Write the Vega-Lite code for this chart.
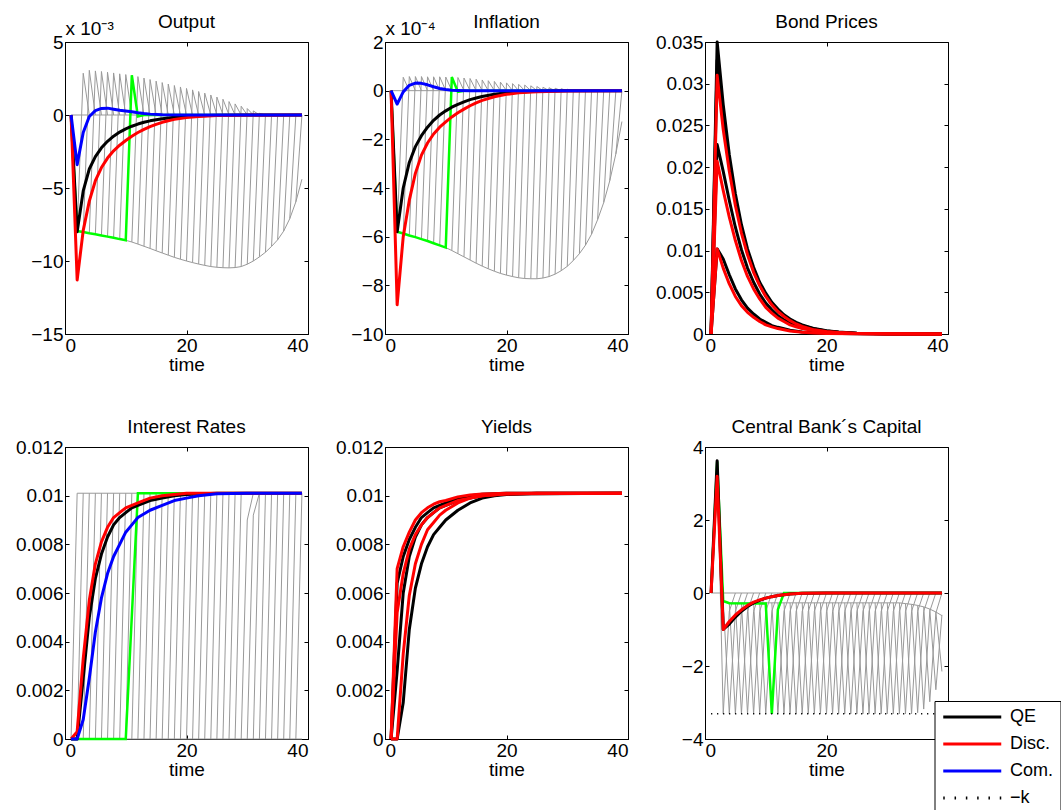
{
"$schema": "https://vega.github.io/schema/vega-lite/v6.json",
"background": "white",
"padding": {"left": 14, "top": 12, "right": 0, "bottom": 0},
"bounds": "flush",
"columns": 3,
"spacing": {"row": 113, "column": 77},
"resolve": {"scale": {"color": "shared"}},
"config": {
 "font": "Liberation Sans",
 "view": {"stroke": "#000000", "strokeWidth": 1},
 "axis": {"grid": false, "domainColor": "#000000", "tickColor": "#000000", "tickSize": -4, "labelFont": "Liberation Sans", "labelFontSize": 19, "labelColor": "#000000", "titleFont": "Liberation Sans", "titleFontSize": 19, "titleFontWeight": "normal", "titleColor": "#000000"},
 "axisX": {"labelPadding": 6, "titlePadding": 0},
 "axisY": {"labelPadding": 6},
 "title": {"font": "Liberation Sans", "fontSize": 19, "fontWeight": "normal", "color": "#000000", "frame": "group", "baseline": "alphabetic"}
},
"datasets": {
"og": [
{"i":"e","t":1,"v":0},{"i":"e","t":2,"v":-7.95},{"i":"e","t":3,"v":-8.02},{"i":"e","t":4,"v":-8.1},{"i":"e","t":5,"v":-8.17},{"i":"e","t":6,"v":-8.25},{"i":"e","t":7,"v":-8.33},{"i":"e","t":8,"v":-8.41},{"i":"e","t":9,"v":-8.5},{"i":"e","t":10,"v":-8.58},{"i":"e","t":11,"v":-8.7},{"i":"e","t":12,"v":-8.84},{"i":"e","t":13,"v":-8.99},{"i":"e","t":14,"v":-9.14},{"i":"e","t":15,"v":-9.3},{"i":"e","t":16,"v":-9.45},{"i":"e","t":17,"v":-9.6},{"i":"e","t":18,"v":-9.75},{"i":"e","t":19,"v":-9.88},{"i":"e","t":20,"v":-10},{"i":"e","t":21,"v":-10.11},{"i":"e","t":22,"v":-10.21},{"i":"e","t":23,"v":-10.3},{"i":"e","t":24,"v":-10.38},{"i":"e","t":25,"v":-10.43},{"i":"e","t":26,"v":-10.46},{"i":"e","t":27,"v":-10.47},{"i":"e","t":28,"v":-10.45},{"i":"e","t":29,"v":-10.38},{"i":"e","t":30,"v":-10.22},{"i":"e","t":31,"v":-10},{"i":"e","t":32,"v":-9.72},{"i":"e","t":33,"v":-9.4},{"i":"e","t":34,"v":-9},{"i":"e","t":35,"v":-8.55},{"i":"e","t":36,"v":-7.95},{"i":"e","t":37,"v":-7.1},{"i":"e","t":38,"v":-5.95},{"i":"e","t":39,"v":-4.4},
{"i":"z","t":1,"v":0},{"i":"z","t":39,"v":0},
{"i":2,"t":2,"v":-7.95},{"i":2,"t":3,"v":2.86},{"i":2,"t":4,"v":0},
{"i":3,"t":3,"v":-8.02},{"i":3,"t":4,"v":3.06},{"i":3,"t":5,"v":0},
{"i":4,"t":4,"v":-8.1},{"i":4,"t":5,"v":3.02},{"i":4,"t":6,"v":0},
{"i":5,"t":5,"v":-8.17},{"i":5,"t":6,"v":2.98},{"i":5,"t":7,"v":0},
{"i":6,"t":6,"v":-8.25},{"i":6,"t":7,"v":2.93},{"i":6,"t":8,"v":0},
{"i":7,"t":7,"v":-8.33},{"i":7,"t":8,"v":2.88},{"i":7,"t":9,"v":0},
{"i":8,"t":8,"v":-8.41},{"i":8,"t":9,"v":2.82},{"i":8,"t":10,"v":0},
{"i":9,"t":9,"v":-8.5},{"i":9,"t":10,"v":2.77},{"i":9,"t":11,"v":0},
{"i":10,"t":10,"v":-8.58},{"i":10,"t":11,"v":2.72},{"i":10,"t":12,"v":0},
{"i":11,"t":11,"v":-8.7},{"i":11,"t":12,"v":2.63},{"i":11,"t":13,"v":0},
{"i":12,"t":12,"v":-8.84},{"i":12,"t":13,"v":2.53},{"i":12,"t":14,"v":0},
{"i":13,"t":13,"v":-8.99},{"i":13,"t":14,"v":2.43},{"i":13,"t":15,"v":0},
{"i":14,"t":14,"v":-9.14},{"i":14,"t":15,"v":2.32},{"i":14,"t":16,"v":0},
{"i":15,"t":15,"v":-9.3},{"i":15,"t":16,"v":2.22},{"i":15,"t":17,"v":0},
{"i":16,"t":16,"v":-9.45},{"i":16,"t":17,"v":2.12},{"i":16,"t":18,"v":0},
{"i":17,"t":17,"v":-9.6},{"i":17,"t":18,"v":2.02},{"i":17,"t":19,"v":0},
{"i":18,"t":18,"v":-9.75},{"i":18,"t":19,"v":1.92},{"i":18,"t":20,"v":0},
{"i":19,"t":19,"v":-9.88},{"i":19,"t":20,"v":1.82},{"i":19,"t":21,"v":0},
{"i":20,"t":20,"v":-10},{"i":20,"t":21,"v":1.72},{"i":20,"t":22,"v":0},
{"i":21,"t":21,"v":-10.11},{"i":21,"t":22,"v":1.61},{"i":21,"t":23,"v":0},
{"i":22,"t":22,"v":-10.21},{"i":22,"t":23,"v":1.5},{"i":22,"t":24,"v":0},
{"i":23,"t":23,"v":-10.3},{"i":23,"t":24,"v":1.37},{"i":23,"t":25,"v":0},
{"i":24,"t":24,"v":-10.38},{"i":24,"t":25,"v":1.23},{"i":24,"t":26,"v":0},
{"i":25,"t":25,"v":-10.43},{"i":25,"t":26,"v":1.08},{"i":25,"t":27,"v":0},
{"i":26,"t":26,"v":-10.46},{"i":26,"t":27,"v":0.92},{"i":26,"t":28,"v":0},
{"i":27,"t":27,"v":-10.47},{"i":27,"t":28,"v":0.76},{"i":27,"t":29,"v":0},
{"i":28,"t":28,"v":-10.45},{"i":28,"t":29,"v":0.6},{"i":28,"t":30,"v":0},
{"i":29,"t":29,"v":-10.38},{"i":29,"t":30,"v":0.44},{"i":29,"t":31,"v":0},
{"i":30,"t":30,"v":-10.22},{"i":30,"t":31,"v":0.28},{"i":30,"t":32,"v":0},
{"i":31,"t":31,"v":-10},{"i":31,"t":32,"v":0.12},{"i":31,"t":33,"v":0},
{"i":32,"t":32,"v":-9.72},{"i":32,"t":33,"v":0.03},{"i":32,"t":34,"v":0},
{"i":33,"t":33,"v":-9.4},{"i":33,"t":34,"v":0},
{"i":34,"t":34,"v":-9},{"i":34,"t":35,"v":0},
{"i":35,"t":35,"v":-8.55},{"i":35,"t":36,"v":0},
{"i":36,"t":36,"v":-7.95},{"i":36,"t":37,"v":0},
{"i":37,"t":37,"v":-7.1},{"i":37,"t":38,"v":0},
{"i":38,"t":38,"v":-5.95},{"i":38,"t":39,"v":0}
],
"ogr": [
{"t":1,"v":0},{"t":2,"v":-7.95},{"t":3,"v":-8.02},{"t":4,"v":-8.1},{"t":5,"v":-8.17},{"t":6,"v":-8.25},{"t":7,"v":-8.33},{"t":8,"v":-8.41},{"t":9,"v":-8.5},{"t":10,"v":-8.58},{"t":11,"v":2.72},{"t":12,"v":-0.1},{"t":13,"v":0},{"t":39,"v":0}
],
"oc": [
{"s":"QE","t":1,"v":0},{"s":"QE","t":2,"v":-8},{"s":"QE","t":3,"v":-5.2},{"s":"QE","t":4,"v":-3.7},{"s":"QE","t":5,"v":-2.85},{"s":"QE","t":6,"v":-2.25},{"s":"QE","t":7,"v":-1.8},{"s":"QE","t":8,"v":-1.45},{"s":"QE","t":9,"v":-1.17},{"s":"QE","t":10,"v":-0.95},{"s":"QE","t":11,"v":-0.77},{"s":"QE","t":12,"v":-0.62},{"s":"QE","t":13,"v":-0.5},{"s":"QE","t":14,"v":-0.4},{"s":"QE","t":15,"v":-0.32},{"s":"QE","t":16,"v":-0.25},{"s":"QE","t":18,"v":-0.15},{"s":"QE","t":20,"v":-0.09},{"s":"QE","t":22,"v":-0.05},{"s":"QE","t":25,"v":-0.02},{"s":"QE","t":30,"v":0},{"s":"QE","t":39,"v":0},
{"s":"Disc.","t":1,"v":0},{"s":"Disc.","t":2,"v":-11.3},{"s":"Disc.","t":3,"v":-7.9},{"s":"Disc.","t":4,"v":-5.9},{"s":"Disc.","t":5,"v":-4.5},{"s":"Disc.","t":6,"v":-3.6},{"s":"Disc.","t":7,"v":-2.95},{"s":"Disc.","t":8,"v":-2.45},{"s":"Disc.","t":9,"v":-2.07},{"s":"Disc.","t":10,"v":-1.75},{"s":"Disc.","t":11,"v":-1.45},{"s":"Disc.","t":12,"v":-1.2},{"s":"Disc.","t":13,"v":-0.98},{"s":"Disc.","t":14,"v":-0.8},{"s":"Disc.","t":15,"v":-0.64},{"s":"Disc.","t":16,"v":-0.5},{"s":"Disc.","t":17,"v":-0.39},{"s":"Disc.","t":18,"v":-0.3},{"s":"Disc.","t":20,"v":-0.18},{"s":"Disc.","t":22,"v":-0.1},{"s":"Disc.","t":25,"v":-0.04},{"s":"Disc.","t":30,"v":-0.01},{"s":"Disc.","t":39,"v":0},
{"s":"Com.","t":1,"v":0},{"s":"Com.","t":2,"v":-3.4},{"s":"Com.","t":3,"v":-1.2},{"s":"Com.","t":4,"v":-0.1},{"s":"Com.","t":5,"v":0.3},{"s":"Com.","t":6,"v":0.45},{"s":"Com.","t":7,"v":0.47},{"s":"Com.","t":8,"v":0.4},{"s":"Com.","t":9,"v":0.32},{"s":"Com.","t":10,"v":0.28},{"s":"Com.","t":11,"v":0.22},{"s":"Com.","t":12,"v":0.15},{"s":"Com.","t":13,"v":0.1},{"s":"Com.","t":14,"v":0.06},{"s":"Com.","t":16,"v":0.02},{"s":"Com.","t":20,"v":0},{"s":"Com.","t":39,"v":0}
],
"ig": [
{"i":"e","t":1,"v":0},{"i":"e","t":2,"v":-5.8},{"i":"e","t":3,"v":-5.87},{"i":"e","t":4,"v":-5.95},{"i":"e","t":5,"v":-6.02},{"i":"e","t":6,"v":-6.1},{"i":"e","t":7,"v":-6.18},{"i":"e","t":8,"v":-6.27},{"i":"e","t":9,"v":-6.36},{"i":"e","t":10,"v":-6.45},{"i":"e","t":11,"v":-6.57},{"i":"e","t":12,"v":-6.7},{"i":"e","t":13,"v":-6.83},{"i":"e","t":14,"v":-6.96},{"i":"e","t":15,"v":-7.09},{"i":"e","t":16,"v":-7.21},{"i":"e","t":17,"v":-7.32},{"i":"e","t":18,"v":-7.42},{"i":"e","t":19,"v":-7.51},{"i":"e","t":20,"v":-7.58},{"i":"e","t":21,"v":-7.64},{"i":"e","t":22,"v":-7.69},{"i":"e","t":23,"v":-7.72},{"i":"e","t":24,"v":-7.73},{"i":"e","t":25,"v":-7.73},{"i":"e","t":26,"v":-7.7},{"i":"e","t":27,"v":-7.64},{"i":"e","t":28,"v":-7.54},{"i":"e","t":29,"v":-7.4},{"i":"e","t":30,"v":-7.22},{"i":"e","t":31,"v":-6.98},{"i":"e","t":32,"v":-6.7},{"i":"e","t":33,"v":-6.35},{"i":"e","t":34,"v":-5.9},{"i":"e","t":35,"v":-5.3},{"i":"e","t":36,"v":-4.6},{"i":"e","t":37,"v":-3.7},{"i":"e","t":38,"v":-2.6},{"i":"e","t":39,"v":-1.27},
{"i":"z","t":1,"v":0},{"i":"z","t":39,"v":0},
{"i":2,"t":2,"v":-5.8},{"i":2,"t":3,"v":0.55},{"i":2,"t":4,"v":0},
{"i":3,"t":3,"v":-5.87},{"i":3,"t":4,"v":0.58},{"i":3,"t":5,"v":0},
{"i":4,"t":4,"v":-5.95},{"i":4,"t":5,"v":0.58},{"i":4,"t":6,"v":0},
{"i":5,"t":5,"v":-6.02},{"i":5,"t":6,"v":0.58},{"i":5,"t":7,"v":0},
{"i":6,"t":6,"v":-6.1},{"i":6,"t":7,"v":0.57},{"i":6,"t":8,"v":0},
{"i":7,"t":7,"v":-6.18},{"i":7,"t":8,"v":0.57},{"i":7,"t":9,"v":0},
{"i":8,"t":8,"v":-6.27},{"i":8,"t":9,"v":0.57},{"i":8,"t":10,"v":0},
{"i":9,"t":9,"v":-6.36},{"i":9,"t":10,"v":0.56},{"i":9,"t":11,"v":0},
{"i":10,"t":10,"v":-6.45},{"i":10,"t":11,"v":0.56},{"i":10,"t":12,"v":0},
{"i":11,"t":11,"v":-6.57},{"i":11,"t":12,"v":0.54},{"i":11,"t":13,"v":0},
{"i":12,"t":12,"v":-6.7},{"i":12,"t":13,"v":0.52},{"i":12,"t":14,"v":0},
{"i":13,"t":13,"v":-6.83},{"i":13,"t":14,"v":0.5},{"i":13,"t":15,"v":0},
{"i":14,"t":14,"v":-6.96},{"i":14,"t":15,"v":0.47},{"i":14,"t":16,"v":0},
{"i":15,"t":15,"v":-7.09},{"i":15,"t":16,"v":0.44},{"i":15,"t":17,"v":0},
{"i":16,"t":16,"v":-7.21},{"i":16,"t":17,"v":0.41},{"i":16,"t":18,"v":0},
{"i":17,"t":17,"v":-7.32},{"i":17,"t":18,"v":0.38},{"i":17,"t":19,"v":0},
{"i":18,"t":18,"v":-7.42},{"i":18,"t":19,"v":0.35},{"i":18,"t":20,"v":0},
{"i":19,"t":19,"v":-7.51},{"i":19,"t":20,"v":0.32},{"i":19,"t":21,"v":0},
{"i":20,"t":20,"v":-7.58},{"i":20,"t":21,"v":0.29},{"i":20,"t":22,"v":0},
{"i":21,"t":21,"v":-7.64},{"i":21,"t":22,"v":0.26},{"i":21,"t":23,"v":0},
{"i":22,"t":22,"v":-7.69},{"i":22,"t":23,"v":0.23},{"i":22,"t":24,"v":0},
{"i":23,"t":23,"v":-7.72},{"i":23,"t":24,"v":0.2},{"i":23,"t":25,"v":0},
{"i":24,"t":24,"v":-7.73},{"i":24,"t":25,"v":0.17},{"i":24,"t":26,"v":0},
{"i":25,"t":25,"v":-7.73},{"i":25,"t":26,"v":0.14},{"i":25,"t":27,"v":0},
{"i":26,"t":26,"v":-7.7},{"i":26,"t":27,"v":0.12},{"i":26,"t":28,"v":0},
{"i":27,"t":27,"v":-7.64},{"i":27,"t":28,"v":0.1},{"i":27,"t":29,"v":0},
{"i":28,"t":28,"v":-7.54},{"i":28,"t":29,"v":0.08},{"i":28,"t":30,"v":0},
{"i":29,"t":29,"v":-7.4},{"i":29,"t":30,"v":0.06},{"i":29,"t":31,"v":0},
{"i":30,"t":30,"v":-7.22},{"i":30,"t":31,"v":0.04},{"i":30,"t":32,"v":0},
{"i":31,"t":31,"v":-6.98},{"i":31,"t":32,"v":0.02},{"i":31,"t":33,"v":0},
{"i":32,"t":32,"v":-6.7},{"i":32,"t":33,"v":0},
{"i":33,"t":33,"v":-6.35},{"i":33,"t":34,"v":0},
{"i":34,"t":34,"v":-5.9},{"i":34,"t":35,"v":0},
{"i":35,"t":35,"v":-5.3},{"i":35,"t":36,"v":0},
{"i":36,"t":36,"v":-4.6},{"i":36,"t":37,"v":0},
{"i":37,"t":37,"v":-3.7},{"i":37,"t":38,"v":0},
{"i":38,"t":38,"v":-2.6},{"i":38,"t":39,"v":0}
],
"igr": [
{"t":1,"v":0},{"t":2,"v":-5.8},{"t":3,"v":-5.87},{"t":4,"v":-5.95},{"t":5,"v":-6.02},{"t":6,"v":-6.1},{"t":7,"v":-6.18},{"t":8,"v":-6.27},{"t":9,"v":-6.36},{"t":10,"v":-6.45},{"t":11,"v":0.56},{"t":12,"v":-0.05},{"t":13,"v":0},{"t":39,"v":0}
],
"ic": [
{"s":"QE","t":1,"v":0},{"s":"QE","t":2,"v":-5.8},{"s":"QE","t":3,"v":-4},{"s":"QE","t":4,"v":-2.95},{"s":"QE","t":5,"v":-2.3},{"s":"QE","t":6,"v":-1.85},{"s":"QE","t":7,"v":-1.5},{"s":"QE","t":8,"v":-1.22},{"s":"QE","t":9,"v":-1},{"s":"QE","t":10,"v":-0.83},{"s":"QE","t":11,"v":-0.68},{"s":"QE","t":12,"v":-0.56},{"s":"QE","t":13,"v":-0.46},{"s":"QE","t":14,"v":-0.37},{"s":"QE","t":15,"v":-0.3},{"s":"QE","t":16,"v":-0.24},{"s":"QE","t":18,"v":-0.15},{"s":"QE","t":20,"v":-0.09},{"s":"QE","t":22,"v":-0.05},{"s":"QE","t":25,"v":-0.02},{"s":"QE","t":30,"v":0},{"s":"QE","t":39,"v":0},
{"s":"Disc.","t":1,"v":0},{"s":"Disc.","t":2,"v":-8.8},{"s":"Disc.","t":3,"v":-6},{"s":"Disc.","t":4,"v":-4.5},{"s":"Disc.","t":5,"v":-3.4},{"s":"Disc.","t":6,"v":-2.65},{"s":"Disc.","t":7,"v":-2.15},{"s":"Disc.","t":8,"v":-1.78},{"s":"Disc.","t":9,"v":-1.5},{"s":"Disc.","t":10,"v":-1.28},{"s":"Disc.","t":11,"v":-1.08},{"s":"Disc.","t":12,"v":-0.91},{"s":"Disc.","t":13,"v":-0.76},{"s":"Disc.","t":14,"v":-0.62},{"s":"Disc.","t":15,"v":-0.5},{"s":"Disc.","t":16,"v":-0.4},{"s":"Disc.","t":18,"v":-0.25},{"s":"Disc.","t":20,"v":-0.15},{"s":"Disc.","t":22,"v":-0.09},{"s":"Disc.","t":25,"v":-0.04},{"s":"Disc.","t":30,"v":-0.01},{"s":"Disc.","t":39,"v":0},
{"s":"Com.","t":1,"v":0},{"s":"Com.","t":2,"v":-0.55},{"s":"Com.","t":3,"v":-0.05},{"s":"Com.","t":4,"v":0.22},{"s":"Com.","t":5,"v":0.31},{"s":"Com.","t":6,"v":0.3},{"s":"Com.","t":7,"v":0.24},{"s":"Com.","t":8,"v":0.16},{"s":"Com.","t":9,"v":0.09},{"s":"Com.","t":10,"v":0.05},{"s":"Com.","t":11,"v":0.02},{"s":"Com.","t":12,"v":0.01},{"s":"Com.","t":14,"v":0},{"s":"Com.","t":39,"v":0}
],
"bc": [
{"s":"QE","i":"a","t":1,"v":0},{"s":"QE","i":"a","t":2,"v":0.035},{"s":"QE","i":"a","t":3,"v":0.0275},{"s":"QE","i":"a","t":4,"v":0.0215},{"s":"QE","i":"a","t":5,"v":0.0168},{"s":"QE","i":"a","t":6,"v":0.0131},{"s":"QE","i":"a","t":7,"v":0.0102},{"s":"QE","i":"a","t":8,"v":0.008},{"s":"QE","i":"a","t":9,"v":0.0062},{"s":"QE","i":"a","t":10,"v":0.0049},{"s":"QE","i":"a","t":11,"v":0.0038},{"s":"QE","i":"a","t":12,"v":0.003},{"s":"QE","i":"a","t":13,"v":0.0023},{"s":"QE","i":"a","t":14,"v":0.0018},{"s":"QE","i":"a","t":15,"v":0.0014},{"s":"QE","i":"a","t":16,"v":0.0011},{"s":"QE","i":"a","t":18,"v":0.00065},{"s":"QE","i":"a","t":20,"v":0.0004},{"s":"QE","i":"a","t":22,"v":0.00024},{"s":"QE","i":"a","t":25,"v":0.0001},{"s":"QE","i":"a","t":30,"v":0.00002},{"s":"QE","i":"a","t":39,"v":0},
{"s":"QE","i":"a2","t":1,"v":0},{"s":"QE","i":"a2","t":2,"v":0.0328},{"s":"QE","i":"a2","t":3,"v":0.0262},{"s":"QE","i":"a2","t":4,"v":0.0206},{"s":"QE","i":"a2","t":5,"v":0.0161},{"s":"QE","i":"a2","t":6,"v":0.0125},{"s":"QE","i":"a2","t":7,"v":0.0097},{"s":"QE","i":"a2","t":8,"v":0.0076},{"s":"QE","i":"a2","t":9,"v":0.0059},{"s":"QE","i":"a2","t":10,"v":0.0046},{"s":"QE","i":"a2","t":11,"v":0.0036},{"s":"QE","i":"a2","t":12,"v":0.0028},{"s":"QE","i":"a2","t":13,"v":0.0022},{"s":"QE","i":"a2","t":14,"v":0.0017},{"s":"QE","i":"a2","t":15,"v":0.0013},{"s":"QE","i":"a2","t":16,"v":0.001},{"s":"QE","i":"a2","t":18,"v":0.0006},{"s":"QE","i":"a2","t":20,"v":0.00036},{"s":"QE","i":"a2","t":22,"v":0.00022},{"s":"QE","i":"a2","t":25,"v":0.00009},{"s":"QE","i":"a2","t":30,"v":0.00002},{"s":"QE","i":"a2","t":39,"v":0},
{"s":"QE","i":"b","t":1,"v":0},{"s":"QE","i":"b","t":2,"v":0.0227},{"s":"QE","i":"b","t":3,"v":0.0195},{"s":"QE","i":"b","t":4,"v":0.016},{"s":"QE","i":"b","t":5,"v":0.0128},{"s":"QE","i":"b","t":6,"v":0.0101},{"s":"QE","i":"b","t":7,"v":0.0079},{"s":"QE","i":"b","t":8,"v":0.0062},{"s":"QE","i":"b","t":9,"v":0.0048},{"s":"QE","i":"b","t":10,"v":0.0037},{"s":"QE","i":"b","t":11,"v":0.0029},{"s":"QE","i":"b","t":12,"v":0.0022},{"s":"QE","i":"b","t":13,"v":0.0017},{"s":"QE","i":"b","t":14,"v":0.0013},{"s":"QE","i":"b","t":15,"v":0.001},{"s":"QE","i":"b","t":16,"v":0.00077},{"s":"QE","i":"b","t":18,"v":0.00045},{"s":"QE","i":"b","t":20,"v":0.00026},{"s":"QE","i":"b","t":25,"v":0.00006},{"s":"QE","i":"b","t":30,"v":0.00001},{"s":"QE","i":"b","t":39,"v":0},
{"s":"QE","i":"c","t":1,"v":0},{"s":"QE","i":"c","t":2,"v":0.0102},{"s":"QE","i":"c","t":3,"v":0.009},{"s":"QE","i":"c","t":4,"v":0.0071},{"s":"QE","i":"c","t":5,"v":0.0054},{"s":"QE","i":"c","t":6,"v":0.0041},{"s":"QE","i":"c","t":7,"v":0.0031},{"s":"QE","i":"c","t":8,"v":0.0024},{"s":"QE","i":"c","t":9,"v":0.0018},{"s":"QE","i":"c","t":10,"v":0.0014},{"s":"QE","i":"c","t":11,"v":0.001},{"s":"QE","i":"c","t":12,"v":0.0008},{"s":"QE","i":"c","t":14,"v":0.00045},{"s":"QE","i":"c","t":16,"v":0.00025},{"s":"QE","i":"c","t":18,"v":0.00014},{"s":"QE","i":"c","t":20,"v":0.00008},{"s":"QE","i":"c","t":25,"v":0.00002},{"s":"QE","i":"c","t":39,"v":0},
{"s":"Disc.","i":"ra","t":1,"v":0},{"s":"Disc.","i":"ra","t":2,"v":0.031},{"s":"Disc.","i":"ra","t":3,"v":0.0245},{"s":"Disc.","i":"ra","t":4,"v":0.0195},{"s":"Disc.","i":"ra","t":5,"v":0.0154},{"s":"Disc.","i":"ra","t":6,"v":0.0121},{"s":"Disc.","i":"ra","t":7,"v":0.0095},{"s":"Disc.","i":"ra","t":8,"v":0.0074},{"s":"Disc.","i":"ra","t":9,"v":0.0058},{"s":"Disc.","i":"ra","t":10,"v":0.0045},{"s":"Disc.","i":"ra","t":11,"v":0.0035},{"s":"Disc.","i":"ra","t":12,"v":0.0027},{"s":"Disc.","i":"ra","t":13,"v":0.0021},{"s":"Disc.","i":"ra","t":14,"v":0.0016},{"s":"Disc.","i":"ra","t":15,"v":0.0012},{"s":"Disc.","i":"ra","t":16,"v":0.0009},{"s":"Disc.","i":"ra","t":18,"v":0.0005},{"s":"Disc.","i":"ra","t":20,"v":0.0003},{"s":"Disc.","i":"ra","t":22,"v":0.00017},{"s":"Disc.","i":"ra","t":25,"v":0.00007},{"s":"Disc.","i":"ra","t":30,"v":0.00001},{"s":"Disc.","i":"ra","t":39,"v":0},
{"s":"Disc.","i":"rb","t":1,"v":0},{"s":"Disc.","i":"rb","t":2,"v":0.0207},{"s":"Disc.","i":"rb","t":3,"v":0.0172},{"s":"Disc.","i":"rb","t":4,"v":0.014},{"s":"Disc.","i":"rb","t":5,"v":0.0112},{"s":"Disc.","i":"rb","t":6,"v":0.0088},{"s":"Disc.","i":"rb","t":7,"v":0.0069},{"s":"Disc.","i":"rb","t":8,"v":0.0054},{"s":"Disc.","i":"rb","t":9,"v":0.0042},{"s":"Disc.","i":"rb","t":10,"v":0.0032},{"s":"Disc.","i":"rb","t":11,"v":0.0025},{"s":"Disc.","i":"rb","t":12,"v":0.0019},{"s":"Disc.","i":"rb","t":13,"v":0.0015},{"s":"Disc.","i":"rb","t":14,"v":0.0011},{"s":"Disc.","i":"rb","t":15,"v":0.00085},{"s":"Disc.","i":"rb","t":16,"v":0.00065},{"s":"Disc.","i":"rb","t":18,"v":0.00038},{"s":"Disc.","i":"rb","t":20,"v":0.00022},{"s":"Disc.","i":"rb","t":25,"v":0.00005},{"s":"Disc.","i":"rb","t":39,"v":0},
{"s":"Disc.","i":"rc","t":1,"v":0},{"s":"Disc.","i":"rc","t":2,"v":0.0102},{"s":"Disc.","i":"rc","t":3,"v":0.0079},{"s":"Disc.","i":"rc","t":4,"v":0.006},{"s":"Disc.","i":"rc","t":5,"v":0.0045},{"s":"Disc.","i":"rc","t":6,"v":0.0034},{"s":"Disc.","i":"rc","t":7,"v":0.0026},{"s":"Disc.","i":"rc","t":8,"v":0.002},{"s":"Disc.","i":"rc","t":9,"v":0.0015},{"s":"Disc.","i":"rc","t":10,"v":0.0011},{"s":"Disc.","i":"rc","t":11,"v":0.00085},{"s":"Disc.","i":"rc","t":12,"v":0.00065},{"s":"Disc.","i":"rc","t":14,"v":0.00037},{"s":"Disc.","i":"rc","t":16,"v":0.0002},{"s":"Disc.","i":"rc","t":18,"v":0.00012},{"s":"Disc.","i":"rc","t":20,"v":0.00007},{"s":"Disc.","i":"rc","t":25,"v":0.00002},{"s":"Disc.","i":"rc","t":39,"v":0}
],
"rg": [
{"i":"b","t":1,"v":0},{"i":"b","t":39,"v":0},{"i":"t","t":2,"v":0.0101},{"i":"t","t":39,"v":0.0101},
{"i":1,"t":1,"v":0},{"i":1,"t":2,"v":0.0101},{"i":2,"t":2,"v":0},{"i":2,"t":3,"v":0.0101},{"i":3,"t":3,"v":0},{"i":3,"t":4,"v":0.0101},{"i":4,"t":4,"v":0},{"i":4,"t":5,"v":0.0101},{"i":5,"t":5,"v":0},{"i":5,"t":6,"v":0.0101},{"i":6,"t":6,"v":0},{"i":6,"t":7,"v":0.0101},{"i":7,"t":7,"v":0},{"i":7,"t":8,"v":0.0101},{"i":8,"t":8,"v":0},{"i":8,"t":9,"v":0.0101},{"i":9,"t":9,"v":0},{"i":9,"t":10,"v":0.0101},{"i":10,"t":10,"v":0},{"i":10,"t":11,"v":0.0101},
{"i":11,"t":11,"v":0},{"i":11,"t":12,"v":0.0101},{"i":12,"t":12,"v":0},{"i":12,"t":13,"v":0.0101},{"i":13,"t":13,"v":0},{"i":13,"t":14,"v":0.0101},{"i":14,"t":14,"v":0},{"i":14,"t":15,"v":0.0101},{"i":15,"t":15,"v":0},{"i":15,"t":16,"v":0.0101},{"i":16,"t":16,"v":0},{"i":16,"t":17,"v":0.0101},{"i":17,"t":17,"v":0},{"i":17,"t":18,"v":0.0101},{"i":18,"t":18,"v":0},{"i":18,"t":19,"v":0.0101},{"i":19,"t":19,"v":0},{"i":19,"t":20,"v":0.0101},{"i":20,"t":20,"v":0},{"i":20,"t":21,"v":0.0101},
{"i":21,"t":21,"v":0},{"i":21,"t":22,"v":0.0101},{"i":22,"t":22,"v":0},{"i":22,"t":23,"v":0.0101},{"i":23,"t":23,"v":0},{"i":23,"t":24,"v":0.0101},{"i":24,"t":24,"v":0},{"i":24,"t":25,"v":0.0101},{"i":25,"t":25,"v":0},{"i":25,"t":26,"v":0.0101},{"i":26,"t":26,"v":0},{"i":26,"t":27,"v":0.0101},{"i":27,"t":27,"v":0},{"i":27,"t":28,"v":0.0101},{"i":28,"t":28,"v":0},{"i":28,"t":29,"v":0.0101},
{"i":29,"t":29,"v":0},{"i":29,"t":30,"v":0.009},{"i":29,"t":31,"v":0.0101},{"i":30,"t":30,"v":0},{"i":30,"t":31,"v":0.0092},{"i":30,"t":32,"v":0.0101},
{"i":31,"t":31,"v":0},{"i":31,"t":32,"v":0.0101},{"i":32,"t":32,"v":0},{"i":32,"t":33,"v":0.0101},{"i":33,"t":33,"v":0},{"i":33,"t":34,"v":0.0101},{"i":34,"t":34,"v":0},{"i":34,"t":35,"v":0.0101},{"i":35,"t":35,"v":0},{"i":35,"t":36,"v":0.0101},{"i":36,"t":36,"v":0},{"i":36,"t":37,"v":0.0101},{"i":37,"t":37,"v":0},{"i":37,"t":38,"v":0.0101},{"i":38,"t":38,"v":0},{"i":38,"t":39,"v":0.0101}
],
"rgr": [
{"t":1,"v":0},{"t":10,"v":0},{"t":12,"v":0.0101},{"t":39,"v":0.0101}
],
"rc": [
{"s":"QE","t":1,"v":0},{"s":"QE","t":2,"v":0},{"s":"QE","t":3,"v":0.0025},{"s":"QE","t":4,"v":0.005},{"s":"QE","t":5,"v":0.0066},{"s":"QE","t":6,"v":0.0076},{"s":"QE","t":7,"v":0.0083},{"s":"QE","t":8,"v":0.0088},{"s":"QE","t":9,"v":0.0091},{"s":"QE","t":10,"v":0.0093},{"s":"QE","t":11,"v":0.0095},{"s":"QE","t":12,"v":0.0096},{"s":"QE","t":14,"v":0.0098},{"s":"QE","t":16,"v":0.0099},{"s":"QE","t":18,"v":0.01},{"s":"QE","t":20,"v":0.01005},{"s":"QE","t":25,"v":0.0101},{"s":"QE","t":39,"v":0.0101},
{"s":"Disc.","t":1,"v":0},{"s":"Disc.","t":2,"v":0.0003},{"s":"Disc.","t":3,"v":0.0033},{"s":"Disc.","t":4,"v":0.0057},{"s":"Disc.","t":5,"v":0.0072},{"s":"Disc.","t":6,"v":0.0081},{"s":"Disc.","t":7,"v":0.0087},{"s":"Disc.","t":8,"v":0.0091},{"s":"Disc.","t":9,"v":0.0093},{"s":"Disc.","t":10,"v":0.0095},{"s":"Disc.","t":11,"v":0.0096},{"s":"Disc.","t":12,"v":0.0097},{"s":"Disc.","t":14,"v":0.0099},{"s":"Disc.","t":16,"v":0.01},{"s":"Disc.","t":18,"v":0.01005},{"s":"Disc.","t":20,"v":0.0101},{"s":"Disc.","t":39,"v":0.0101},
{"s":"Com.","t":1,"v":0},{"s":"Com.","t":2,"v":0},{"s":"Com.","t":3,"v":0.0008},{"s":"Com.","t":4,"v":0.0025},{"s":"Com.","t":5,"v":0.0044},{"s":"Com.","t":6,"v":0.0058},{"s":"Com.","t":7,"v":0.0068},{"s":"Com.","t":8,"v":0.0075},{"s":"Com.","t":9,"v":0.008},{"s":"Com.","t":10,"v":0.0085},{"s":"Com.","t":11,"v":0.0088},{"s":"Com.","t":12,"v":0.0091},{"s":"Com.","t":14,"v":0.0094},{"s":"Com.","t":16,"v":0.0096},{"s":"Com.","t":18,"v":0.0098},{"s":"Com.","t":20,"v":0.0099},{"s":"Com.","t":22,"v":0.01},{"s":"Com.","t":25,"v":0.01008},{"s":"Com.","t":30,"v":0.0101},{"s":"Com.","t":39,"v":0.0101}
],
"yc": [
{"s":"QE","i":"b1","t":1,"v":0},{"s":"QE","i":"b1","t":2,"v":0.0064},{"s":"QE","i":"b1","t":3,"v":0.0075},{"s":"QE","i":"b1","t":4,"v":0.0082},{"s":"QE","i":"b1","t":5,"v":0.0087},{"s":"QE","i":"b1","t":6,"v":0.0091},{"s":"QE","i":"b1","t":7,"v":0.0093},{"s":"QE","i":"b1","t":8,"v":0.0095},{"s":"QE","i":"b1","t":9,"v":0.0096},{"s":"QE","i":"b1","t":10,"v":0.0097},{"s":"QE","i":"b1","t":12,"v":0.0099},{"s":"QE","i":"b1","t":14,"v":0.01},{"s":"QE","i":"b1","t":16,"v":0.01006},{"s":"QE","i":"b1","t":20,"v":0.0101},{"s":"QE","i":"b1","t":39,"v":0.0101},
{"s":"QE","i":"b2","t":1,"v":0},{"s":"QE","i":"b2","t":2,"v":0.0028},{"s":"QE","i":"b2","t":3,"v":0.006},{"s":"QE","i":"b2","t":4,"v":0.0075},{"s":"QE","i":"b2","t":5,"v":0.0083},{"s":"QE","i":"b2","t":6,"v":0.0088},{"s":"QE","i":"b2","t":7,"v":0.0091},{"s":"QE","i":"b2","t":8,"v":0.0093},{"s":"QE","i":"b2","t":9,"v":0.0095},{"s":"QE","i":"b2","t":10,"v":0.0096},{"s":"QE","i":"b2","t":12,"v":0.0098},{"s":"QE","i":"b2","t":14,"v":0.0099},{"s":"QE","i":"b2","t":16,"v":0.01},{"s":"QE","i":"b2","t":20,"v":0.01007},{"s":"QE","i":"b2","t":39,"v":0.0101},
{"s":"QE","i":"b3","t":1,"v":0},{"s":"QE","i":"b3","t":2,"v":0},{"s":"QE","i":"b3","t":3,"v":0.0015},{"s":"QE","i":"b3","t":4,"v":0.0045},{"s":"QE","i":"b3","t":5,"v":0.0062},{"s":"QE","i":"b3","t":6,"v":0.0072},{"s":"QE","i":"b3","t":7,"v":0.0079},{"s":"QE","i":"b3","t":8,"v":0.0084},{"s":"QE","i":"b3","t":9,"v":0.0087},{"s":"QE","i":"b3","t":10,"v":0.009},{"s":"QE","i":"b3","t":12,"v":0.0094},{"s":"QE","i":"b3","t":14,"v":0.0097},{"s":"QE","i":"b3","t":16,"v":0.0099},{"s":"QE","i":"b3","t":18,"v":0.01},{"s":"QE","i":"b3","t":20,"v":0.01005},{"s":"QE","i":"b3","t":25,"v":0.0101},{"s":"QE","i":"b3","t":39,"v":0.0101},
{"s":"Disc.","i":"r1","t":1,"v":0},{"s":"Disc.","i":"r1","t":2,"v":0.007},{"s":"Disc.","i":"r1","t":3,"v":0.0079},{"s":"Disc.","i":"r1","t":4,"v":0.0085},{"s":"Disc.","i":"r1","t":5,"v":0.009},{"s":"Disc.","i":"r1","t":6,"v":0.0093},{"s":"Disc.","i":"r1","t":7,"v":0.0095},{"s":"Disc.","i":"r1","t":8,"v":0.00965},{"s":"Disc.","i":"r1","t":9,"v":0.00975},{"s":"Disc.","i":"r1","t":10,"v":0.0098},{"s":"Disc.","i":"r1","t":12,"v":0.00995},{"s":"Disc.","i":"r1","t":14,"v":0.01003},{"s":"Disc.","i":"r1","t":16,"v":0.01007},{"s":"Disc.","i":"r1","t":20,"v":0.0101},{"s":"Disc.","i":"r1","t":39,"v":0.0101},
{"s":"Disc.","i":"r2","t":1,"v":0},{"s":"Disc.","i":"r2","t":2,"v":0.0052},{"s":"Disc.","i":"r2","t":3,"v":0.0068},{"s":"Disc.","i":"r2","t":4,"v":0.0078},{"s":"Disc.","i":"r2","t":5,"v":0.0084},{"s":"Disc.","i":"r2","t":6,"v":0.0088},{"s":"Disc.","i":"r2","t":7,"v":0.0091},{"s":"Disc.","i":"r2","t":8,"v":0.0093},{"s":"Disc.","i":"r2","t":9,"v":0.0095},{"s":"Disc.","i":"r2","t":10,"v":0.0096},{"s":"Disc.","i":"r2","t":12,"v":0.0098},{"s":"Disc.","i":"r2","t":14,"v":0.0099},{"s":"Disc.","i":"r2","t":16,"v":0.01},{"s":"Disc.","i":"r2","t":20,"v":0.01008},{"s":"Disc.","i":"r2","t":39,"v":0.0101},
{"s":"Disc.","i":"r3","t":1,"v":0},{"s":"Disc.","i":"r3","t":2,"v":0},{"s":"Disc.","i":"r3","t":3,"v":0.0035},{"s":"Disc.","i":"r3","t":4,"v":0.0059},{"s":"Disc.","i":"r3","t":5,"v":0.0072},{"s":"Disc.","i":"r3","t":6,"v":0.008},{"s":"Disc.","i":"r3","t":7,"v":0.0086},{"s":"Disc.","i":"r3","t":8,"v":0.0089},{"s":"Disc.","i":"r3","t":9,"v":0.0092},{"s":"Disc.","i":"r3","t":10,"v":0.0094},{"s":"Disc.","i":"r3","t":12,"v":0.0097},{"s":"Disc.","i":"r3","t":14,"v":0.0099},{"s":"Disc.","i":"r3","t":16,"v":0.01},{"s":"Disc.","i":"r3","t":20,"v":0.01007},{"s":"Disc.","i":"r3","t":25,"v":0.0101},{"s":"Disc.","i":"r3","t":39,"v":0.0101}
],
"cg": [
{"i":"e","t":1,"v":0},{"i":"e","t":2,"v":3.6},{"i":"e","t":3,"v":-0.22},{"i":"e","t":4,"v":-0.27},{"i":"e","t":32,"v":-0.27},{"i":"e","t":33,"v":-0.29},{"i":"e","t":34,"v":-0.31},{"i":"e","t":35,"v":-0.34},{"i":"e","t":36,"v":-0.38},{"i":"e","t":37,"v":-0.44},{"i":"e","t":38,"v":-0.52},{"i":"e","t":39,"v":-0.62},
{"i":"z","t":1,"v":0},{"i":"z","t":39,"v":0},
{"i":2,"t":2,"v":3.6},{"i":2,"t":3,"v":-3.31},{"i":2,"t":4,"v":-0.5},{"i":2,"t":5,"v":0},
{"i":3,"t":3,"v":-0.22},{"i":3,"t":4,"v":-3.31},{"i":3,"t":5,"v":-0.5},{"i":3,"t":6,"v":0},
{"i":4,"t":4,"v":-0.27},{"i":4,"t":5,"v":-3.31},{"i":4,"t":6,"v":-0.5},{"i":4,"t":7,"v":0},
{"i":5,"t":5,"v":-0.27},{"i":5,"t":6,"v":-3.31},{"i":5,"t":7,"v":-0.5},{"i":5,"t":8,"v":0},
{"i":6,"t":6,"v":-0.27},{"i":6,"t":7,"v":-3.31},{"i":6,"t":8,"v":-0.5},{"i":6,"t":9,"v":0},
{"i":7,"t":7,"v":-0.27},{"i":7,"t":8,"v":-3.31},{"i":7,"t":9,"v":-0.5},{"i":7,"t":10,"v":0},
{"i":8,"t":8,"v":-0.27},{"i":8,"t":9,"v":-3.31},{"i":8,"t":10,"v":-0.5},{"i":8,"t":11,"v":0},
{"i":9,"t":9,"v":-0.27},{"i":9,"t":10,"v":-3.31},{"i":9,"t":11,"v":-0.5},{"i":9,"t":12,"v":0},
{"i":10,"t":10,"v":-0.27},{"i":10,"t":11,"v":-3.31},{"i":10,"t":12,"v":-0.5},{"i":10,"t":13,"v":0},
{"i":11,"t":11,"v":-0.27},{"i":11,"t":12,"v":-3.31},{"i":11,"t":13,"v":-0.5},{"i":11,"t":14,"v":0},
{"i":12,"t":12,"v":-0.27},{"i":12,"t":13,"v":-3.31},{"i":12,"t":14,"v":-0.5},{"i":12,"t":15,"v":0},
{"i":13,"t":13,"v":-0.27},{"i":13,"t":14,"v":-3.31},{"i":13,"t":15,"v":-0.5},{"i":13,"t":16,"v":0},
{"i":14,"t":14,"v":-0.27},{"i":14,"t":15,"v":-3.31},{"i":14,"t":16,"v":-0.5},{"i":14,"t":17,"v":0},
{"i":15,"t":15,"v":-0.27},{"i":15,"t":16,"v":-3.31},{"i":15,"t":17,"v":-0.5},{"i":15,"t":18,"v":0},
{"i":16,"t":16,"v":-0.27},{"i":16,"t":17,"v":-3.31},{"i":16,"t":18,"v":-0.5},{"i":16,"t":19,"v":0},
{"i":17,"t":17,"v":-0.27},{"i":17,"t":18,"v":-3.31},{"i":17,"t":19,"v":-0.5},{"i":17,"t":20,"v":0},
{"i":18,"t":18,"v":-0.27},{"i":18,"t":19,"v":-3.31},{"i":18,"t":20,"v":-0.5},{"i":18,"t":21,"v":0},
{"i":19,"t":19,"v":-0.27},{"i":19,"t":20,"v":-3.31},{"i":19,"t":21,"v":-0.5},{"i":19,"t":22,"v":0},
{"i":20,"t":20,"v":-0.27},{"i":20,"t":21,"v":-3.31},{"i":20,"t":22,"v":-0.5},{"i":20,"t":23,"v":0},
{"i":21,"t":21,"v":-0.27},{"i":21,"t":22,"v":-3.31},{"i":21,"t":23,"v":-0.5},{"i":21,"t":24,"v":0},
{"i":22,"t":22,"v":-0.27},{"i":22,"t":23,"v":-3.31},{"i":22,"t":24,"v":-0.5},{"i":22,"t":25,"v":0},
{"i":23,"t":23,"v":-0.27},{"i":23,"t":24,"v":-3.31},{"i":23,"t":25,"v":-0.5},{"i":23,"t":26,"v":0},
{"i":24,"t":24,"v":-0.27},{"i":24,"t":25,"v":-3.31},{"i":24,"t":26,"v":-0.5},{"i":24,"t":27,"v":0},
{"i":25,"t":25,"v":-0.27},{"i":25,"t":26,"v":-3.31},{"i":25,"t":27,"v":-0.5},{"i":25,"t":28,"v":0},
{"i":26,"t":26,"v":-0.27},{"i":26,"t":27,"v":-3.31},{"i":26,"t":28,"v":-0.5},{"i":26,"t":29,"v":0},
{"i":27,"t":27,"v":-0.27},{"i":27,"t":28,"v":-3.31},{"i":27,"t":29,"v":-0.5},{"i":27,"t":30,"v":0},
{"i":28,"t":28,"v":-0.27},{"i":28,"t":29,"v":-3.31},{"i":28,"t":30,"v":-0.5},{"i":28,"t":31,"v":0},
{"i":29,"t":29,"v":-0.27},{"i":29,"t":30,"v":-3.31},{"i":29,"t":31,"v":-0.5},{"i":29,"t":32,"v":0},
{"i":30,"t":30,"v":-0.27},{"i":30,"t":31,"v":-3.31},{"i":30,"t":32,"v":-0.5},{"i":30,"t":33,"v":0},
{"i":31,"t":31,"v":-0.27},{"i":31,"t":32,"v":-3.31},{"i":31,"t":33,"v":-0.5},{"i":31,"t":34,"v":0},
{"i":32,"t":32,"v":-0.27},{"i":32,"t":33,"v":-3.31},{"i":32,"t":34,"v":-0.5},{"i":32,"t":35,"v":0},
{"i":33,"t":33,"v":-0.29},{"i":33,"t":34,"v":-3.31},{"i":33,"t":35,"v":-0.5},{"i":33,"t":36,"v":0},
{"i":34,"t":34,"v":-0.31},{"i":34,"t":35,"v":-3.28},{"i":34,"t":36,"v":-0.5},{"i":34,"t":37,"v":0},
{"i":35,"t":35,"v":-0.34},{"i":35,"t":36,"v":-3.18},{"i":35,"t":37,"v":-0.5},{"i":35,"t":38,"v":0},
{"i":36,"t":36,"v":-0.38},{"i":36,"t":37,"v":-2.98},{"i":36,"t":38,"v":-0.55},{"i":36,"t":39,"v":0},
{"i":37,"t":37,"v":-0.44},{"i":37,"t":38,"v":-2.65},{"i":37,"t":39,"v":-0.6},
{"i":38,"t":38,"v":-0.52},{"i":38,"t":39,"v":-2.15}
],
"cgr": [
{"t":1,"v":0},{"t":2,"v":3.6},{"t":3,"v":-0.22},{"t":4,"v":-0.28},{"t":10,"v":-0.29},{"t":11,"v":-3.31},{"t":12,"v":-0.45},{"t":13,"v":0},{"t":39,"v":0}
],
"ck": [
{"s":"−k","t":1,"v":-3.31},{"s":"−k","t":39,"v":-3.31}
],
"cc": [
{"s":"QE","t":1,"v":0},{"s":"QE","t":2,"v":3.62},{"s":"QE","t":3,"v":-1},{"s":"QE","t":4,"v":-0.85},{"s":"QE","t":5,"v":-0.66},{"s":"QE","t":6,"v":-0.5},{"s":"QE","t":7,"v":-0.37},{"s":"QE","t":8,"v":-0.27},{"s":"QE","t":9,"v":-0.2},{"s":"QE","t":10,"v":-0.14},{"s":"QE","t":11,"v":-0.1},{"s":"QE","t":12,"v":-0.07},{"s":"QE","t":14,"v":-0.03},{"s":"QE","t":16,"v":-0.01},{"s":"QE","t":20,"v":0},{"s":"QE","t":39,"v":0},
{"s":"Disc.","t":1,"v":0},{"s":"Disc.","t":2,"v":3.2},{"s":"Disc.","t":3,"v":-1},{"s":"Disc.","t":4,"v":-0.78},{"s":"Disc.","t":5,"v":-0.6},{"s":"Disc.","t":6,"v":-0.46},{"s":"Disc.","t":7,"v":-0.34},{"s":"Disc.","t":8,"v":-0.25},{"s":"Disc.","t":9,"v":-0.19},{"s":"Disc.","t":10,"v":-0.14},{"s":"Disc.","t":11,"v":-0.1},{"s":"Disc.","t":12,"v":-0.07},{"s":"Disc.","t":14,"v":-0.03},{"s":"Disc.","t":16,"v":-0.01},{"s":"Disc.","t":20,"v":0},{"s":"Disc.","t":39,"v":0}
]
},
"concat": [
{
 "width": 243, "height": 292, "title": {"text": "Output", "offset": -13},
 "resolve": {"axis": {"x": "independent", "y": "independent"}},
 "encoding": {
  "x": {"field": "t", "type": "quantitative", "scale": {"domain": [0, 40], "nice": false}, "axis": null},
  "y": {"field": "v", "type": "quantitative", "scale": {"domain": [-15, 5], "nice": false, "zero": false}, "axis": null}
 },
 "layer": [
  {"data": {"name": "og"}, "mark": {"type": "line", "color": "#999999", "strokeWidth": 1}, "encoding": {
    "x": {"field": "t", "type": "quantitative", "scale": {"domain": [0, 40], "nice": false}, "axis": {"orient": "bottom", "values": [0, 20, 40], "title": "time"}},
    "y": {"field": "v", "type": "quantitative", "scale": {"domain": [-15, 5], "nice": false, "zero": false}, "axis": {"orient": "left", "values": [-15, -10, -5, 0, 5], "title": "x 10⁻³", "titleAngle": 0, "titleAlign": "left", "titleBaseline": "alphabetic", "titleX": 0, "titleY": -8}},
    "detail": {"field": "i", "type": "nominal"}}},
  {"data": {"name": "ogr"}, "mark": {"type": "line", "color": "#00ff00", "strokeWidth": 2.5}, "encoding": {
    "x": {"field": "t", "type": "quantitative", "scale": {"domain": [0, 40], "nice": false}, "axis": {"orient": "top", "labels": false, "title": null, "domain": false, "values": [0, 20, 40]}},
    "y": {"field": "v", "type": "quantitative", "scale": {"domain": [-15, 5], "nice": false, "zero": false}, "axis": {"orient": "right", "labels": false, "title": null, "domain": false, "values": [-15, -10, -5, 0, 5]}}}},
  {"data": {"name": "oc"}, "mark": {"type": "line", "strokeWidth": 3, "strokeJoin": "round"}, "encoding": {"color": {"field": "s", "type": "nominal", "title": null, "scale": {"domain": ["QE", "Disc.", "Com.", "−k"], "range": ["#000000", "#ff0000", "#0000ff", "#000000"]}}}}
 ]
},
{
 "width": 243, "height": 292, "title": {"text": "Inflation", "offset": -13},
 "resolve": {"axis": {"x": "independent", "y": "independent"}},
 "encoding": {
  "x": {"field": "t", "type": "quantitative", "scale": {"domain": [0, 40], "nice": false}, "axis": null},
  "y": {"field": "v", "type": "quantitative", "scale": {"domain": [-10, 2], "nice": false, "zero": false}, "axis": null}
 },
 "layer": [
  {"data": {"name": "ig"}, "mark": {"type": "line", "color": "#999999", "strokeWidth": 1}, "encoding": {
    "x": {"field": "t", "type": "quantitative", "scale": {"domain": [0, 40], "nice": false}, "axis": {"orient": "bottom", "values": [0, 20, 40], "title": "time"}},
    "y": {"field": "v", "type": "quantitative", "scale": {"domain": [-10, 2], "nice": false, "zero": false}, "axis": {"orient": "left", "values": [-10, -8, -6, -4, -2, 0, 2], "title": "x 10⁻⁴", "titleAngle": 0, "titleAlign": "left", "titleBaseline": "alphabetic", "titleX": 0, "titleY": -8}},
    "detail": {"field": "i", "type": "nominal"}}},
  {"data": {"name": "igr"}, "mark": {"type": "line", "color": "#00ff00", "strokeWidth": 2.5}, "encoding": {
    "x": {"field": "t", "type": "quantitative", "scale": {"domain": [0, 40], "nice": false}, "axis": {"orient": "top", "labels": false, "title": null, "domain": false, "values": [0, 20, 40]}},
    "y": {"field": "v", "type": "quantitative", "scale": {"domain": [-10, 2], "nice": false, "zero": false}, "axis": {"orient": "right", "labels": false, "title": null, "domain": false, "values": [-10, -8, -6, -4, -2, 0, 2]}}}},
  {"data": {"name": "ic"}, "mark": {"type": "line", "strokeWidth": 3, "strokeJoin": "round"}, "encoding": {"color": {"field": "s", "type": "nominal", "title": null, "scale": {"domain": ["QE", "Disc.", "Com.", "−k"], "range": ["#000000", "#ff0000", "#0000ff", "#000000"]}}}}
 ]
},
{
 "width": 243, "height": 292, "title": {"text": "Bond Prices", "offset": 1},
 "resolve": {"axis": {"x": "independent", "y": "independent"}},
 "encoding": {
  "x": {"field": "t", "type": "quantitative", "scale": {"domain": [0, 40], "nice": false}, "axis": null},
  "y": {"field": "v", "type": "quantitative", "scale": {"domain": [0, 0.035], "nice": false}, "axis": null}
 },
 "layer": [
  {"data": {"name": "bc"}, "transform": [{"filter": "datum.s === 'QE'"}], "mark": {"type": "line", "strokeWidth": 3, "strokeJoin": "round"}, "encoding": {
    "x": {"field": "t", "type": "quantitative", "scale": {"domain": [0, 40], "nice": false}, "axis": {"orient": "bottom", "values": [0, 20, 40], "title": "time"}},
    "y": {"field": "v", "type": "quantitative", "scale": {"domain": [0, 0.035], "nice": false}, "axis": {"orient": "left", "values": [0, 0.005, 0.01, 0.015, 0.02, 0.025, 0.03, 0.035], "format": "~g", "title": null}},
    "detail": {"field": "i", "type": "nominal"}, "color": {"field": "s", "type": "nominal", "title": null, "scale": {"domain": ["QE", "Disc.", "Com.", "−k"], "range": ["#000000", "#ff0000", "#0000ff", "#000000"]}}}},
  {"data": {"name": "bc"}, "transform": [{"filter": "datum.s === 'Disc.'"}], "mark": {"type": "line", "strokeWidth": 3, "strokeJoin": "round"}, "encoding": {
    "x": {"field": "t", "type": "quantitative", "scale": {"domain": [0, 40], "nice": false}, "axis": {"orient": "top", "labels": false, "title": null, "domain": false, "values": [0, 20, 40]}},
    "y": {"field": "v", "type": "quantitative", "scale": {"domain": [0, 0.035], "nice": false}, "axis": {"orient": "right", "labels": false, "title": null, "domain": false, "values": [0, 0.005, 0.01, 0.015, 0.02, 0.025, 0.03, 0.035]}},
    "detail": {"field": "i", "type": "nominal"}, "color": {"field": "s", "type": "nominal", "title": null, "scale": {"domain": ["QE", "Disc.", "Com.", "−k"], "range": ["#000000", "#ff0000", "#0000ff", "#000000"]}}}}
 ]
},
{
 "width": 243, "height": 292, "title": {"text": "Interest Rates", "offset": 1},
 "resolve": {"axis": {"x": "independent", "y": "independent"}},
 "encoding": {
  "x": {"field": "t", "type": "quantitative", "scale": {"domain": [0, 40], "nice": false}, "axis": null},
  "y": {"field": "v", "type": "quantitative", "scale": {"domain": [0, 0.012], "nice": false}, "axis": null}
 },
 "layer": [
  {"data": {"name": "rg"}, "mark": {"type": "line", "color": "#999999", "strokeWidth": 1}, "encoding": {
    "x": {"field": "t", "type": "quantitative", "scale": {"domain": [0, 40], "nice": false}, "axis": {"orient": "bottom", "values": [0, 20, 40], "title": "time"}},
    "y": {"field": "v", "type": "quantitative", "scale": {"domain": [0, 0.012], "nice": false}, "axis": {"orient": "left", "values": [0, 0.002, 0.004, 0.006, 0.008, 0.01, 0.012], "format": "~g", "title": null}},
    "detail": {"field": "i", "type": "nominal"}}},
  {"data": {"name": "rgr"}, "mark": {"type": "line", "color": "#00ff00", "strokeWidth": 2.5}, "encoding": {
    "x": {"field": "t", "type": "quantitative", "scale": {"domain": [0, 40], "nice": false}, "axis": {"orient": "top", "labels": false, "title": null, "domain": false, "values": [0, 20, 40]}},
    "y": {"field": "v", "type": "quantitative", "scale": {"domain": [0, 0.012], "nice": false}, "axis": {"orient": "right", "labels": false, "title": null, "domain": false, "values": [0, 0.002, 0.004, 0.006, 0.008, 0.01, 0.012]}}}},
  {"data": {"name": "rc"}, "mark": {"type": "line", "strokeWidth": 3, "strokeJoin": "round"}, "encoding": {"color": {"field": "s", "type": "nominal", "title": null, "scale": {"domain": ["QE", "Disc.", "Com.", "−k"], "range": ["#000000", "#ff0000", "#0000ff", "#000000"]}}}}
 ]
},
{
 "width": 243, "height": 292, "title": {"text": "Yields", "offset": 1},
 "resolve": {"axis": {"x": "independent", "y": "independent"}},
 "encoding": {
  "x": {"field": "t", "type": "quantitative", "scale": {"domain": [0, 40], "nice": false}, "axis": null},
  "y": {"field": "v", "type": "quantitative", "scale": {"domain": [0, 0.012], "nice": false}, "axis": null}
 },
 "layer": [
  {"data": {"name": "yc"}, "transform": [{"filter": "datum.s === 'QE'"}], "mark": {"type": "line", "strokeWidth": 3, "strokeJoin": "round"}, "encoding": {
    "x": {"field": "t", "type": "quantitative", "scale": {"domain": [0, 40], "nice": false}, "axis": {"orient": "bottom", "values": [0, 20, 40], "title": "time"}},
    "y": {"field": "v", "type": "quantitative", "scale": {"domain": [0, 0.012], "nice": false}, "axis": {"orient": "left", "values": [0, 0.002, 0.004, 0.006, 0.008, 0.01, 0.012], "format": "~g", "title": null}},
    "detail": {"field": "i", "type": "nominal"}, "color": {"field": "s", "type": "nominal", "title": null, "scale": {"domain": ["QE", "Disc.", "Com.", "−k"], "range": ["#000000", "#ff0000", "#0000ff", "#000000"]}}}},
  {"data": {"name": "yc"}, "transform": [{"filter": "datum.s === 'Disc.'"}], "mark": {"type": "line", "strokeWidth": 3, "strokeJoin": "round"}, "encoding": {
    "x": {"field": "t", "type": "quantitative", "scale": {"domain": [0, 40], "nice": false}, "axis": {"orient": "top", "labels": false, "title": null, "domain": false, "values": [0, 20, 40]}},
    "y": {"field": "v", "type": "quantitative", "scale": {"domain": [0, 0.012], "nice": false}, "axis": {"orient": "right", "labels": false, "title": null, "domain": false, "values": [0, 0.002, 0.004, 0.006, 0.008, 0.01, 0.012]}},
    "detail": {"field": "i", "type": "nominal"}, "color": {"field": "s", "type": "nominal", "title": null, "scale": {"domain": ["QE", "Disc.", "Com.", "−k"], "range": ["#000000", "#ff0000", "#0000ff", "#000000"]}}}}
 ]
},
{
 "width": 243, "height": 292, "title": {"text": "Central Bank´s Capital", "offset": 1},
 "resolve": {"axis": {"x": "independent", "y": "independent"}},
 "encoding": {
  "x": {"field": "t", "type": "quantitative", "scale": {"domain": [0, 40], "nice": false}, "axis": null},
  "y": {"field": "v", "type": "quantitative", "scale": {"domain": [-4, 4], "nice": false, "zero": false}, "axis": null}
 },
 "layer": [
  {"data": {"name": "cg"}, "mark": {"type": "line", "color": "#999999", "strokeWidth": 1}, "encoding": {
    "x": {"field": "t", "type": "quantitative", "scale": {"domain": [0, 40], "nice": false}, "axis": {"orient": "bottom", "values": [0, 20, 40], "title": "time", "labelExpr": "datum.value == 40 ? '' : datum.label"}},
    "y": {"field": "v", "type": "quantitative", "scale": {"domain": [-4, 4], "nice": false, "zero": false}, "axis": {"orient": "left", "values": [-4, -2, 0, 2, 4], "title": null}},
    "detail": {"field": "i", "type": "nominal"}}},
  {"data": {"name": "cgr"}, "mark": {"type": "line", "color": "#00ff00", "strokeWidth": 2.5}, "encoding": {
    "x": {"field": "t", "type": "quantitative", "scale": {"domain": [0, 40], "nice": false}, "axis": {"orient": "top", "labels": false, "title": null, "domain": false, "values": [0, 20, 40]}},
    "y": {"field": "v", "type": "quantitative", "scale": {"domain": [-4, 4], "nice": false, "zero": false}, "axis": {"orient": "right", "labels": false, "title": null, "domain": false, "values": [-4, -2, 0, 2, 4]}}}},
  {"data": {"name": "ck"}, "mark": {"type": "line", "strokeWidth": 1.5, "strokeDash": [1.2, 4.8]}, "encoding": {"color": {"field": "s", "type": "nominal", "title": null, "scale": {"domain": ["QE", "Disc.", "Com.", "−k"], "range": ["#000000", "#ff0000", "#0000ff", "#000000"]}}}},
  {"data": {"name": "cc"}, "mark": {"type": "line", "strokeWidth": 3, "strokeJoin": "round"}, "encoding": {"color": {"field": "s", "type": "nominal", "title": null, "scale": {"domain": ["QE", "Disc.", "Com.", "−k"], "range": ["#000000", "#ff0000", "#0000ff", "#000000"]}, "legend": {"orient": "none", "legendX": 869.5, "legendY": 659, "zindex": 2, "symbolType": "M-4,0H4", "symbolSize": 210.25, "symbolOffset": 21.75, "symbolStrokeWidth": 3, "labelFontSize": 18, "labelFont": "Liberation Sans", "labelColor": "#000000", "labelOffset": 28.75, "strokeColor": "#000000", "fillColor": "#ffffff", "padding": 7, "rowPadding": 9, "encode": {"symbols": {"update": {"strokeDash": {"signal": "datum.value === '−k' ? [1.5, 9.8] : [1, 0]"}}}}}}}}
 ]
}
]
}
